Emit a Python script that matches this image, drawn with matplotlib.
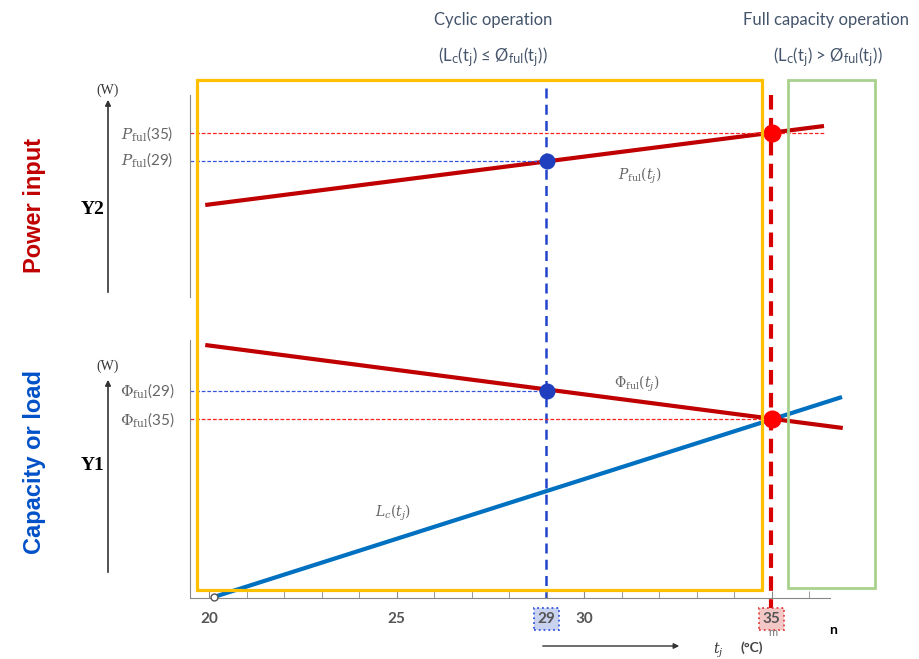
import numpy as np
import matplotlib.pyplot as plt
from matplotlib.patches import Rectangle
from matplotlib.ticker import FixedLocator

plt.rcParams['font.family'] = ['Lato', 'DejaVu Sans']
plt.rcParams['mathtext.fontset'] = 'dejavuserif'

# data (temperatures in degC, W in arbitrary units)
t_pful = [19.9, 36.4]
p_ful = [92, 171]
t_phi = [19.9, 36.9]
phi_ful = [253, 170]
t_load = [20.13, 36.88]
load = [1, 201]
t_ops = [29, 35]
p_ops = [136, 164]
phi_ops = [207, 179]
op_colors = ['#1F3FBF', '#FF0000']
tick_temps = [20, 25, 29, 30, 35]
tick_labels = ['20', '25', '29', '30', '35']

W, H = 920, 659
fig = plt.figure(figsize=(W / 100, H / 100), dpi=100)

px_per_deg = 37.5
def t_at(px):
    return 20 + (px - 209) / px_per_deg

def frac(x0, y0, x1, y1):
    return [x0 / W, 1 - y1 / H, (x1 - x0) / W, (y1 - y0) / H]

# background layer: vertical dashed lines at the two operating points
ax_bg = fig.add_axes([0, 0, 1, 1], zorder=0)
ax_bg.set_xlim(t_at(0), t_at(W))
ax_bg.set_ylim(H, 0)
ax_bg.axis('off')
ax_bg.plot([t_ops[0], t_ops[0]], [88, 598], color='#2244CC', lw=1.8, ls=(0, (4, 2.5)))
ax_bg.plot([t_ops[1], t_ops[1]], [95, 615], color='#D90000', lw=3, ls=(0, (3.5, 2)))

# top panel: power input
ax_top = fig.add_axes(frac(190, 95, 920, 297), zorder=1)
ax_top.patch.set_visible(False)
ax_top.set_xlim(t_at(190), t_at(920))
ax_top.set_ylim(0, 202)
for s in ['top', 'right', 'bottom']:
    ax_top.spines[s].set_visible(False)
ax_top.spines['left'].set_color('#888888')
ax_top.set_xticks([])
ax_top.set_yticks([])
ax_top.plot(t_pful, p_ful, color='#C00000', lw=3, solid_capstyle='butt')
ax_top.hlines(p_ops[0], t_at(190), t_ops[0], color='#3355DD', lw=0.9, ls=(0, (3, 1.5)))
ax_top.hlines(p_ops[1], t_at(190), t_pful[1], color='#FF2020', lw=0.9, ls=(0, (3, 1.5)))
for t, p, c, ms in zip(t_ops, p_ops, op_colors, [10.5, 12]):
    ax_top.plot(t, p, 'o', color=c, ms=ms, zorder=5)

# bottom panel: capacity and load
ax_bot = fig.add_axes(frac(190, 340, 920, 598), zorder=1)
ax_bot.patch.set_visible(False)
ax_bot.set_xlim(t_at(190), t_at(920))
ax_bot.set_ylim(0, 258)
for s in ['top', 'right']:
    ax_bot.spines[s].set_visible(False)
ax_bot.spines['left'].set_color('#888888')
ax_bot.spines['bottom'].set_color('#888888')
ax_bot.spines['bottom'].set_bounds(t_at(190), t_at(830))
ax_bot.set_yticks([])
ax_bot.plot(t_phi, phi_ful, color='#C00000', lw=3, solid_capstyle='butt')
ax_bot.plot(t_load, load, color='#0070C0', lw=3, solid_capstyle='butt')
ax_bot.plot(t_load[0], load[0], 'o', ms=5, mfc='white', mec='#555555', mew=1, zorder=6, clip_on=False)
ax_bot.hlines(phi_ops[0], t_at(190), t_ops[0], color='#3355DD', lw=0.9, ls=(0, (3, 1.5)))
ax_bot.hlines(phi_ops[1], t_at(190), t_ops[1], color='#FF2020', lw=0.9, ls=(0, (3, 1.5)))
for t, p, c, ms in zip(t_ops, phi_ops, op_colors, [10.5, 12]):
    ax_bot.plot(t, p, 'o', color=c, ms=ms, zorder=5)

ax_bot.set_xticks(tick_temps)
ax_bot.set_xticklabels(tick_labels, fontsize=11, fontweight='bold', color='#555555')
ax_bot.xaxis.set_minor_locator(FixedLocator(np.arange(20, 37, 1)))
ax_bot.tick_params(axis='x', which='both', direction='in', length=5, color='#888888', pad=10)
for lab in ax_bot.get_xticklabels():
    if lab.get_text() == '29':
        lab.set_bbox(dict(boxstyle='square,pad=0.25', fc='#C9D3F0', ec='#3355DD', ls=':', lw=1.3))
    if lab.get_text() == '35':
        lab.set_bbox(dict(boxstyle='square,pad=0.25', fc='#F4C7C7', ec='#E04040', ls=':', lw=1.3))

# foreground layer: boxes, arrows and annotation text (pixel coords)
ax = fig.add_axes([0, 0, 1, 1], zorder=2)
ax.patch.set_visible(False)
ax.set_xlim(0, W)
ax.set_ylim(H, 0)
ax.axis('off')

ax.add_patch(Rectangle((197, 80), 565, 510, fill=False, ec='#FFC000', lw=2.3))
ax.add_patch(Rectangle((788, 80), 87, 508, fill=False, ec='#A9D18E', lw=2))

hdr = '#44546A'
ax.text(493, 20, 'Cyclic operation', ha='center', va='center', fontsize=12, color=hdr)
ax.text(493, 57, r'(L$_\mathsf{c}$(t$_\mathsf{j}$) ≤ Ø$_\mathsf{ful}$(t$_\mathsf{j}$))',
        ha='center', va='center', fontsize=12, color=hdr)
ax.text(826, 20, 'Full capacity operation', ha='center', va='center', fontsize=12, color=hdr)
ax.text(828, 57, r'(L$_\mathsf{c}$(t$_\mathsf{j}$) > Ø$_\mathsf{ful}$(t$_\mathsf{j}$))',
        ha='center', va='center', fontsize=12, color=hdr)

ax.text(35, 205, 'Power input', rotation=90, ha='center', va='center', fontsize=17,
        fontweight='bold', color='#C00000', family=['Liberation Sans', 'DejaVu Sans'])
ax.text(35, 462, 'Capacity or load', rotation=90, ha='center', va='center', fontsize=17,
        fontweight='bold', color='#0050C8', family=['Liberation Sans', 'DejaVu Sans'])

serif = ['Liberation Serif', 'DejaVu Serif']
ax.text(93, 210, 'Y2', ha='center', va='center', fontsize=14, fontweight='bold', family=serif)
ax.text(93, 465, 'Y1', ha='center', va='center', fontsize=14, fontweight='bold', family=serif)
ax.text(108, 90, '(W)', ha='center', va='center', fontsize=10, family=serif, color='#333333')
ax.text(108, 366, '(W)', ha='center', va='center', fontsize=10, family=serif, color='#333333')
ax.annotate('', xy=(108, 97), xytext=(108, 295),
            arrowprops=dict(arrowstyle='-|>', color='#333333', lw=1.2, mutation_scale=8))
ax.annotate('', xy=(108, 377), xytext=(108, 575),
            arrowprops=dict(arrowstyle='-|>', color='#333333', lw=1.2, mutation_scale=8))

lab_c = '#666666'
ax.text(147, 134, r'$P_{\mathrm{ful}}$(35)', ha='center', va='center', fontsize=11, color=lab_c)
ax.text(147, 160, r'$P_{\mathrm{ful}}$(29)', ha='center', va='center', fontsize=11, color=lab_c)
ax.text(147, 391, r'$\Phi_{\mathrm{ful}}$(29)', ha='center', va='center', fontsize=11, color=lab_c)
ax.text(147, 420, r'$\Phi_{\mathrm{ful}}$(35)', ha='center', va='center', fontsize=11, color=lab_c)
ax.text(640, 176, r'$P_{\mathrm{ful}}(t_j)$', ha='center', va='center', fontsize=10, color=lab_c)
ax.text(637, 384, r'$\Phi_{\mathrm{ful}}(t_j)$', ha='center', va='center', fontsize=10, color=lab_c)
ax.text(393, 513, r'$L_c(t_j)$', ha='center', va='center', fontsize=10, color=lab_c)

ax.text(773, 632, 'm', ha='center', va='center', fontsize=8, color='#777777')
ax.text(833, 630, 'n', ha='center', va='center', fontsize=10, fontweight='bold')
ax.annotate('', xy=(682, 646), xytext=(540, 646),
            arrowprops=dict(arrowstyle='-|>', color='#333333', lw=1, mutation_scale=8))
ax.text(718, 650, r'$t_j$', ha='center', va='center', fontsize=10, color='#333333')
ax.text(752, 648, '(°C)', ha='center', va='center', fontsize=10, fontweight='bold', color='#444444')

fig.savefig('out.png', dpi=100)
